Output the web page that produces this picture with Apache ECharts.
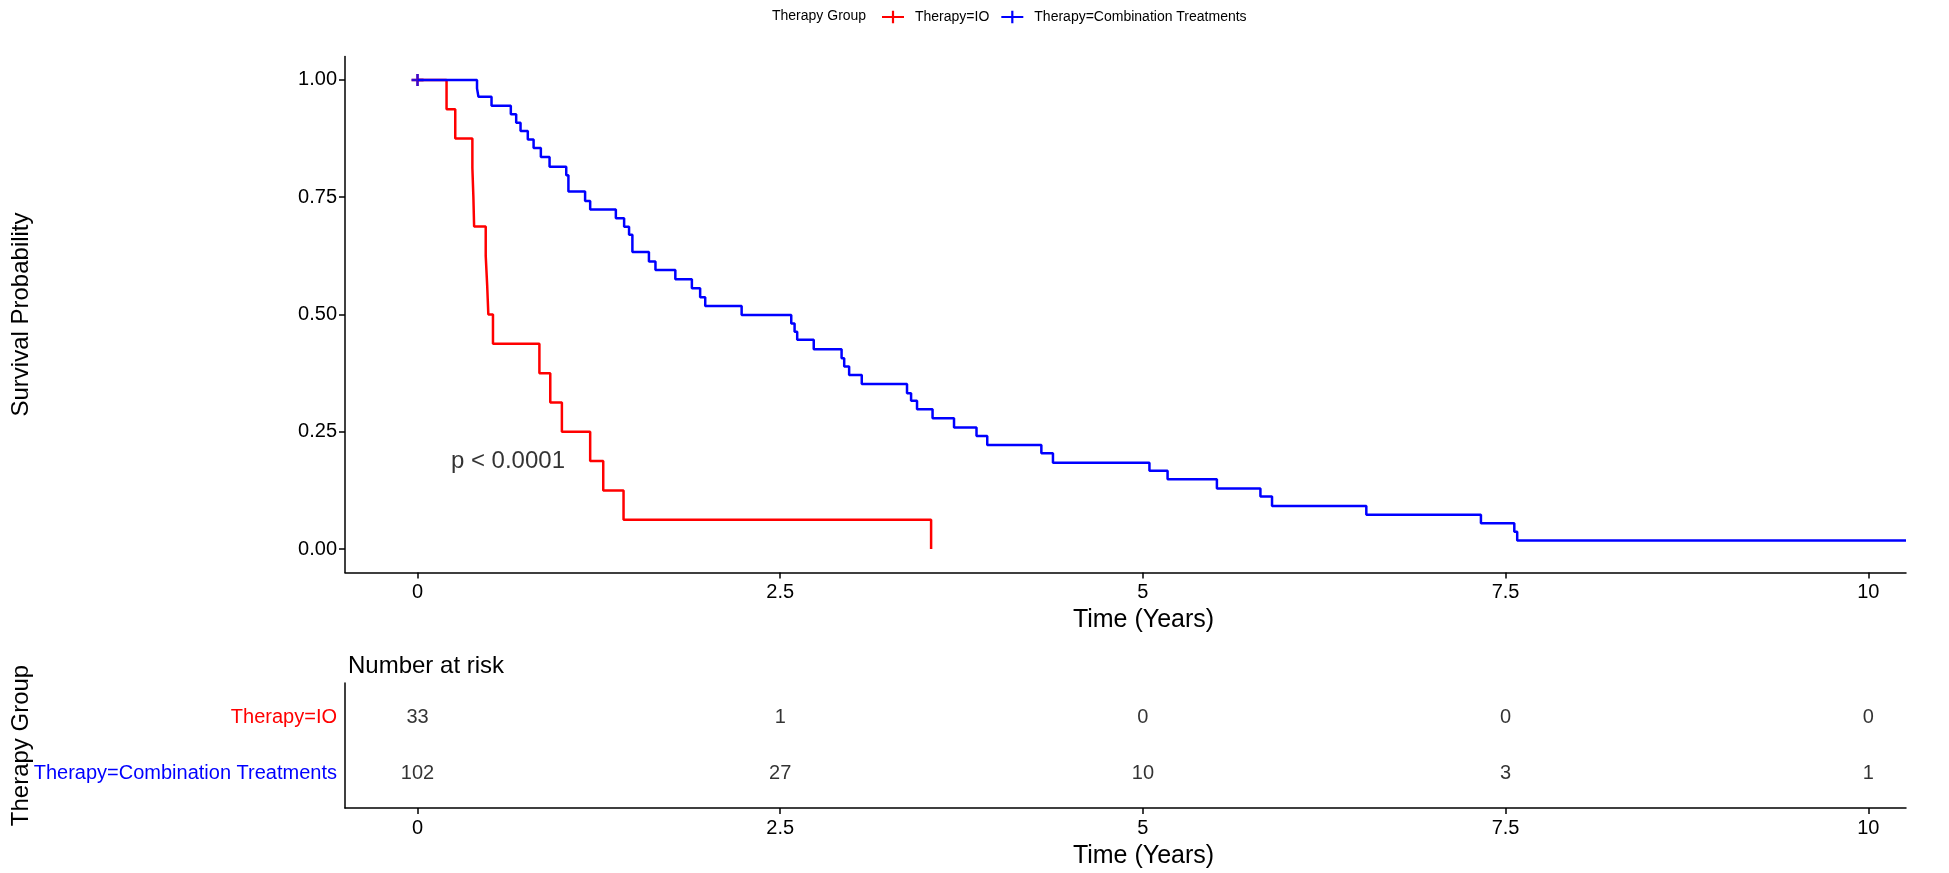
<!DOCTYPE html>
<html><head><meta charset="utf-8">
<script src="https://cdn.jsdelivr.net/npm/echarts@6/dist/echarts.min.js"></script>
<style>html,body{margin:0;padding:0;background:#fff}#c{width:1949px;height:873px}</style>
</head><body><div id="c"></div>
<script>
// ---- data ----
const groupNames = ['Therapy=IO', 'Therapy=Combination Treatments'];
const ioTimes = [0, 0.20, 0.26, 0.378, 0.385, 0.39, 0.47, 0.48, 0.488, 0.52, 0.84, 0.915, 0.995, 1.19, 1.28, 1.42, 3.54];
const ioSurv  = [1, 0.9375, 0.875, 0.8125, 0.75, 0.6875, 0.625, 0.5625, 0.5, 0.4375, 0.375, 0.3125, 0.25, 0.1875, 0.125, 0.0625, 0];
const combTimes = [0, 0.41, 0.42, 0.51, 0.643, 0.68, 0.71, 0.76, 0.80, 0.85, 0.91, 1.025, 1.04, 1.155, 1.19, 1.367, 1.424, 1.458, 1.481,
  1.595, 1.64, 1.777, 1.891, 1.948, 1.983, 2.234, 2.576, 2.599, 2.617, 2.731, 2.923, 2.941, 2.975, 3.062, 3.374, 3.402, 3.443, 3.55,
  3.698, 3.853, 3.927, 4.30, 4.38, 5.045, 5.17, 5.51, 5.81, 5.89, 6.54, 7.33, 7.56, 7.58, 10.26];
const combSurv  = [1, 0.982, 0.964, 0.945, 0.927, 0.909, 0.891, 0.873, 0.855, 0.836, 0.815, 0.797, 0.762, 0.742, 0.724, 0.705, 0.687, 0.670, 0.633,
  0.613, 0.595, 0.575, 0.556, 0.537, 0.518, 0.499, 0.481, 0.463, 0.446, 0.426, 0.407, 0.389, 0.371, 0.352, 0.332, 0.316, 0.298, 0.279,
  0.259, 0.241, 0.222, 0.204, 0.184, 0.167, 0.149, 0.129, 0.112, 0.092, 0.073, 0.055, 0.037, 0.018, 0.018];
const censorIO = [[0, 1]];
const censorComb = [[0, 1]];
const timeTicks = [0, 2.5, 5, 7.5, 10];
const survTicks = [0, 0.25, 0.5, 0.75, 1];
const riskIO = [33, 1, 0, 0, 0];
const riskComb = [102, 27, 10, 3, 1];
const pValueText = 'p < 0.0001';
const pValueAt = [0.23, 0.186];

// ---- chart ----
const FONT = '"Liberation Sans", Arial, sans-serif';
const RED = '#ff0000', BLUE = '#0000ff';
const plusPath = 'path://M0,5.75 H25 V8.25 H0 Z M11.25,0 H13.75 V14 H11.25 Z';
const censorPath = 'path://M0,4.75 H12 V7.25 H0 Z M4.75,0 H7.25 V12 H4.75 Z';
const blk = { color: '#000', width: 1.5 };

const chart = echarts.init(document.getElementById('c'));
const toPairs = (ts, ss) => ts.map((t, i) => [t, ss[i]]);

chart.setOption({
  animation: false,
  textStyle: { fontFamily: FONT },
  title: { text: 'Number at risk', left: 343, top: 649,
    textStyle: { fontFamily: FONT, fontSize: 24, fontWeight: 'normal', color: '#000' } },
  graphic: [{ type: 'text', left: 772, top: 9,
    style: { text: 'Therapy Group', font: '14px ' + FONT, fill: '#000' } }],
  legend: {
    left: 877, top: 5, itemWidth: 22, itemHeight: 13, itemGap: 12,
    data: [{ name: groupNames[0], icon: plusPath }, { name: groupNames[1], icon: plusPath }],
    textStyle: { fontSize: 14, color: '#000', fontFamily: FONT, padding: [0, 0, 0, 6] }
  },
  grid: [
    { left: 345, right: 43, top: 56.5, height: 516, outerBoundsMode: 'none' },
    { left: 345, right: 43, top: 683, height: 125, outerBoundsMode: 'none' }
  ],
  xAxis: [
    { gridIndex: 0, type: 'value', min: -0.5, max: 10.26,
      axisLine: { show: true, onZero: false, lineStyle: blk },
      axisTick: { show: true, length: 6, customValues: timeTicks, lineStyle: blk },
      axisLabel: { customValues: timeTicks, formatter: v => String(v), fontSize: 20, color: '#000', margin: 10 },
      splitLine: { show: false },
      name: 'Time (Years)', nameLocation: 'middle', nameGap: 33,
      nameTextStyle: { fontSize: 25, color: '#000', padding: [0, 0, 0, 36] } },
    { gridIndex: 1, type: 'value', min: -0.5, max: 10.26,
      axisLine: { show: true, onZero: false, lineStyle: blk },
      axisTick: { show: true, length: 6, customValues: timeTicks, lineStyle: blk },
      axisLabel: { customValues: timeTicks, formatter: v => String(v), fontSize: 20, color: '#000', margin: 10 },
      splitLine: { show: false },
      name: 'Time (Years)', nameLocation: 'middle', nameGap: 36,
      nameTextStyle: { fontSize: 25, color: '#000', padding: [0, 0, 0, 36] } }
  ],
  yAxis: [
    { gridIndex: 0, type: 'value', min: -0.05, max: 1.05,
      axisLine: { show: true, onZero: false, lineStyle: blk },
      axisTick: { show: true, length: 6, customValues: survTicks, lineStyle: blk },
      axisLabel: { customValues: survTicks, formatter: v => v.toFixed(2), fontSize: 20, color: '#000', margin: 8 },
      splitLine: { show: false },
      name: 'Survival Probability', nameLocation: 'middle', nameGap: 312, nameRotate: 90, nameMoveOverlap: false,
      nameTextStyle: { fontSize: 24, color: '#000' } },
    { gridIndex: 1, type: 'value', min: 0.4, max: 2.6, inverse: true,
      axisLine: { show: true, onZero: false, lineStyle: blk },
      axisTick: { show: false },
      axisLabel: { customValues: [1, 2], fontSize: 20, margin: 8,
        formatter: v => v === 1 ? '{io|' + groupNames[0] + '}' : '{co|' + groupNames[1] + '}',
        rich: { io: { color: RED, fontSize: 20, fontFamily: FONT }, co: { color: BLUE, fontSize: 20, fontFamily: FONT } } },
      splitLine: { show: false },
      name: 'Therapy Group', nameLocation: 'middle', nameGap: 312, nameRotate: 90, nameMoveOverlap: false,
      nameTextStyle: { fontSize: 24, color: '#000' } }
  ],
  series: [
    { name: groupNames[0], type: 'line', step: 'end', xAxisIndex: 0, yAxisIndex: 0,
      data: toPairs(ioTimes, ioSurv), showSymbol: false, color: RED,
      lineStyle: { color: RED, width: 2.5 } },
    { name: groupNames[1], type: 'line', step: 'end', xAxisIndex: 0, yAxisIndex: 0,
      data: toPairs(combTimes, combSurv), showSymbol: false, color: BLUE,
      lineStyle: { color: BLUE, width: 2.5 } },
    { name: 'censorIO', type: 'scatter', data: censorIO, symbol: censorPath, symbolSize: 12,
      itemStyle: { color: RED }, silent: true },
    { name: 'censorComb', type: 'scatter', data: censorComb, symbol: censorPath, symbolSize: 12,
      itemStyle: { color: BLUE }, silent: true },
    { name: 'pval', type: 'scatter', data: [pValueAt], symbolSize: 0, silent: true,
      label: { show: true, position: 'right', distance: 0, formatter: pValueText,
        fontSize: 24, color: '#000', fontFamily: FONT } },
    { name: 'riskIO', type: 'scatter', xAxisIndex: 1, yAxisIndex: 1, symbolSize: 0, silent: true,
      data: timeTicks.map((t, i) => [t, 1, riskIO[i]]),
      label: { show: true, position: 'inside', formatter: p => String(p.value[2]), fontSize: 20, color: '#000', fontFamily: FONT } },
    { name: 'riskComb', type: 'scatter', xAxisIndex: 1, yAxisIndex: 1, symbolSize: 0, silent: true,
      data: timeTicks.map((t, i) => [t, 2, riskComb[i]]),
      label: { show: true, position: 'inside', formatter: p => String(p.value[2]), fontSize: 20, color: '#000', fontFamily: FONT } }
  ]
});
</script></body></html>
